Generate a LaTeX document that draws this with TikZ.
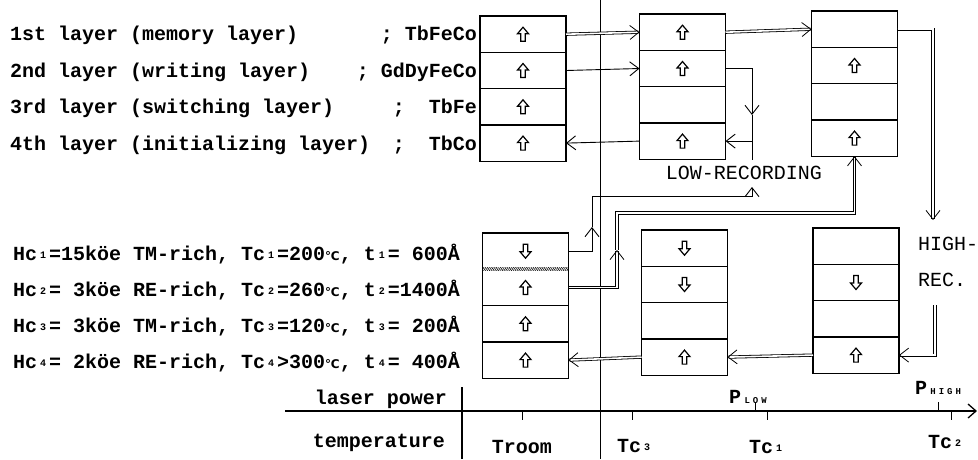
\documentclass[tikz,border=0pt]{standalone}
\usepackage{fontspec}
\setmainfont{Liberation Mono}
\newfontfamily\symfont{DejaVu Sans}
\usetikzlibrary{arrows.meta,positioning,patterns.meta}

\newcommand\sbs[1]{\makebox[0.6em]{\raisebox{0.15ex}{\fontsize{10}{10}\selectfont #1}}}
\newcommand\degc{{\symfont\fontsize{12}{12}\selectfont ℃}}
\newcommand\psub[1]{{\fontsize{9}{9}\selectfont #1}}

\tikzset{
	uparr/.pic={\draw[line width=1.2pt,line join=miter] (-2.2,7) -- (-2.2,-0.5) -- (-5.5,-0.5) -- (0,-7) -- (5.5,-0.5) -- (2.2,-0.5) -- (2.2,7) -- cycle;},
	dnarr/.pic={\draw[line width=1.2pt,line join=miter] (-2.2,-7) -- (-2.2,0.5) -- (-5.5,0.5) -- (0,7) -- (5.5,0.5) -- (2.2,0.5) -- (2.2,-7) -- cycle;}
}

\begin{document}
\begin{tikzpicture}[
			x=1pt,y=-1pt,
			every node/.style={font=\fontsize{20}{24}\selectfont\bfseries,inner sep=0pt},
			cell/.style={draw,line width=1.3pt,minimum width=86pt,minimum height=36.3pt,outer sep=0pt},
			lbl/.style={font=\fontsize{20}{24}\selectfont},
			conn/.style={line width=0.9pt,-{Straight Barb[length=9pt,width=14pt]}},
			dbl/.style={line width=0.8pt,double distance=1.6pt,-{Straight Barb[length=9pt,width=14pt]}}
			]
			\useasboundingbox (0,0) rectangle (978,459);
			\draw[line width=0.7pt] (600,0) -- (600,459);
			\node[anchor=west] (l1) at (10,35) {1st layer (memory layer)};
			\node[anchor=west] (l2) at (10,72) {2nd layer (writing layer)};
			\node[anchor=west] (l3) at (10,108) {3rd layer (switching layer)};
			\node[anchor=west] (l4) at (10,145) {4th layer (initializing layer)};
			\node[anchor=east] (m1) at (477,35) {; TbFeCo};
			\node[anchor=east] (m2) at (477,72) {; GdDyFeCo};
			\node[anchor=east] (m3) at (477,108) {; \ TbFe};
			\node[anchor=east] (m4) at (477,145) {; \ TbCo};
			\node[anchor=west] (h1) at (13,254) {Hc\sbs{1}=15köe TM-rich, Tc\sbs{1}=200\degc, t\sbs{1}= 600Å};
			\node[anchor=west] (h2) at (13,290) {Hc\sbs{2}= 3köe RE-rich, Tc\sbs{2}=260\degc, t\sbs{2}=1400Å};
			\node[anchor=west] (h3) at (13,326) {Hc\sbs{3}= 3köe TM-rich, Tc\sbs{3}=120\degc, t\sbs{3}= 200Å};
			\node[anchor=west] (h4) at (13,362) {Hc\sbs{4}= 2köe RE-rich, Tc\sbs{4}>300\degc, t\sbs{4}= 400Å};
			\node[cell] (A1) at (523,34.2) {};
			\node[cell,below=0pt of A1] (A2) {};
			\node[cell,below=0pt of A2] (A3) {};
			\node[cell,below=0pt of A3] (A4) {};
			\node[cell] (B1) at (682.5,32.2) {};
			\node[cell,below=0pt of B1] (B2) {};
			\node[cell,below=0pt of B2] (B3) {};
			\node[cell,below=0pt of B3] (B4) {};
			\node[cell] (C1) at (854.5,29.2) {};
			\node[cell,below=0pt of C1] (C2) {};
			\node[cell,below=0pt of C2] (C3) {};
			\node[cell,below=0pt of C3] (C4) {};
			\node[cell] (D1) at (525.5,251.2) {};
			\node[cell,below=0pt of D1] (D2) {};
			\node[cell,below=0pt of D2] (D3) {};
			\node[cell,below=0pt of D3] (D4) {};
			\node[cell] (E1) at (684.5,248.2) {};
			\node[cell,below=0pt of E1] (E2) {};
			\node[cell,below=0pt of E2] (E3) {};
			\node[cell,below=0pt of E3] (E4) {};
			\node[cell] (F1) at (856,246.2) {};
			\node[cell,below=0pt of F1] (F2) {};
			\node[cell,below=0pt of F2] (F3) {};
			\node[cell,below=0pt of F3] (F4) {};
			\foreach \c in {A1,A2,A3,A4,B1,B2,B4,C2,C4,D2,D3,D4,E4,F4}
				\pic at (\c) {uparr};
			\foreach \c in {D1,E1,E2,F2}
				\pic at (\c) {dnarr};
			\fill[white] ([xshift=0.7pt,yshift=1.6pt]D1.south west) rectangle ([xshift=-0.7pt,yshift=-1.6pt]D1.south east);
			\fill[pattern={Lines[angle=60,distance=1.6pt,line width=0.6pt]}] ([xshift=0.7pt,yshift=1.6pt]D1.south west) rectangle ([xshift=-0.7pt,yshift=-1.6pt]D1.south east);
			\node[lbl] (low) at (744,173) {LOW-RECORDING};
			\node[lbl,anchor=west] (high) at (918,244) {HIGH-};
			\node[lbl,anchor=west] (rec) at (918,280) {REC.};
			\coordinate (c3m) at (752,115);
			\coordinate (c3e) at (752,160);
			\coordinate (lowm) at (592,227);
			\coordinate (lowc) at (592,196);
			\coordinate (lowt) at (752,187);
			\coordinate (highm) at (617,250);
			\coordinate (highc) at (617,213);
			\coordinate (hrec) at (933,220);
			\coordinate (hrec2) at (935,305);
			\draw[dbl] (A1.east) -- (B1.west);
			\draw[conn] (A2.east) -- (B2.west);
			\draw[conn] (B2.east) -| (c3m);
			\draw[conn,-] (c3m) -- (c3e);
			\draw[conn] (B4.east -| c3m) -- (B4.east);
			\draw[conn] (B4.west) -- (A4.east);
			\draw[dbl] (B1.east) -- (C1.west);
			\draw[dbl] (C1.east) -| (hrec);
			\draw[dbl] (hrec2) |- (F4.east);
			\draw[dbl] (F4.west) -- (E4.east);
			\draw[dbl] (E4.west) -- (D4.east);
			\draw[conn] (D1.east) -| (lowm);
			\draw[conn] (lowm) -- (lowc) -| (lowt);
			\draw[dbl] (D2.east) -| (highm);
			\draw[dbl] (highm) -- (highc) -| (C4.south);
			\coordinate (ax0) at (285,411);
			\coordinate (ax1) at (977,411);
			\draw[line width=1.3pt,-{Straight Barb[length=8pt,width=14pt]}] (ax0) -- (ax1);
			\draw[line width=1.3pt] (462,387) -- (462,459);
			\draw[line width=1pt] (522,411) -- (522,420);
			\draw[line width=1pt] (632,411) -- (632,420);
			\draw[line width=1pt] (767,411) -- (767,420);
			\draw[line width=1pt] (951,411) -- (951,420);
			\draw[line width=1pt] (755,411) -- (755,403);
			\draw[line width=1pt] (938,411) -- (938,402);
			\node[anchor=east] (laser) at (447,399) {laser power};
			\node[anchor=east] (temp) at (445,443) {temperature};
			\node (troom) at (522,447) {Troom};
			\node (tc3) at (635,446) {Tc\sbs{3}};
			\node (tc1) at (767,447) {Tc\sbs{1}};
			\node (tc2) at (946,442) {Tc\sbs{2}};
			\node (plow) at (748,397) {P\,\psub{L\,\,O\,\,W}};
			\node (phigh) at (938,388) {P\,\psub{H\,\,I\,\,G\,\,H}};
		\end{tikzpicture}
\end{document}
